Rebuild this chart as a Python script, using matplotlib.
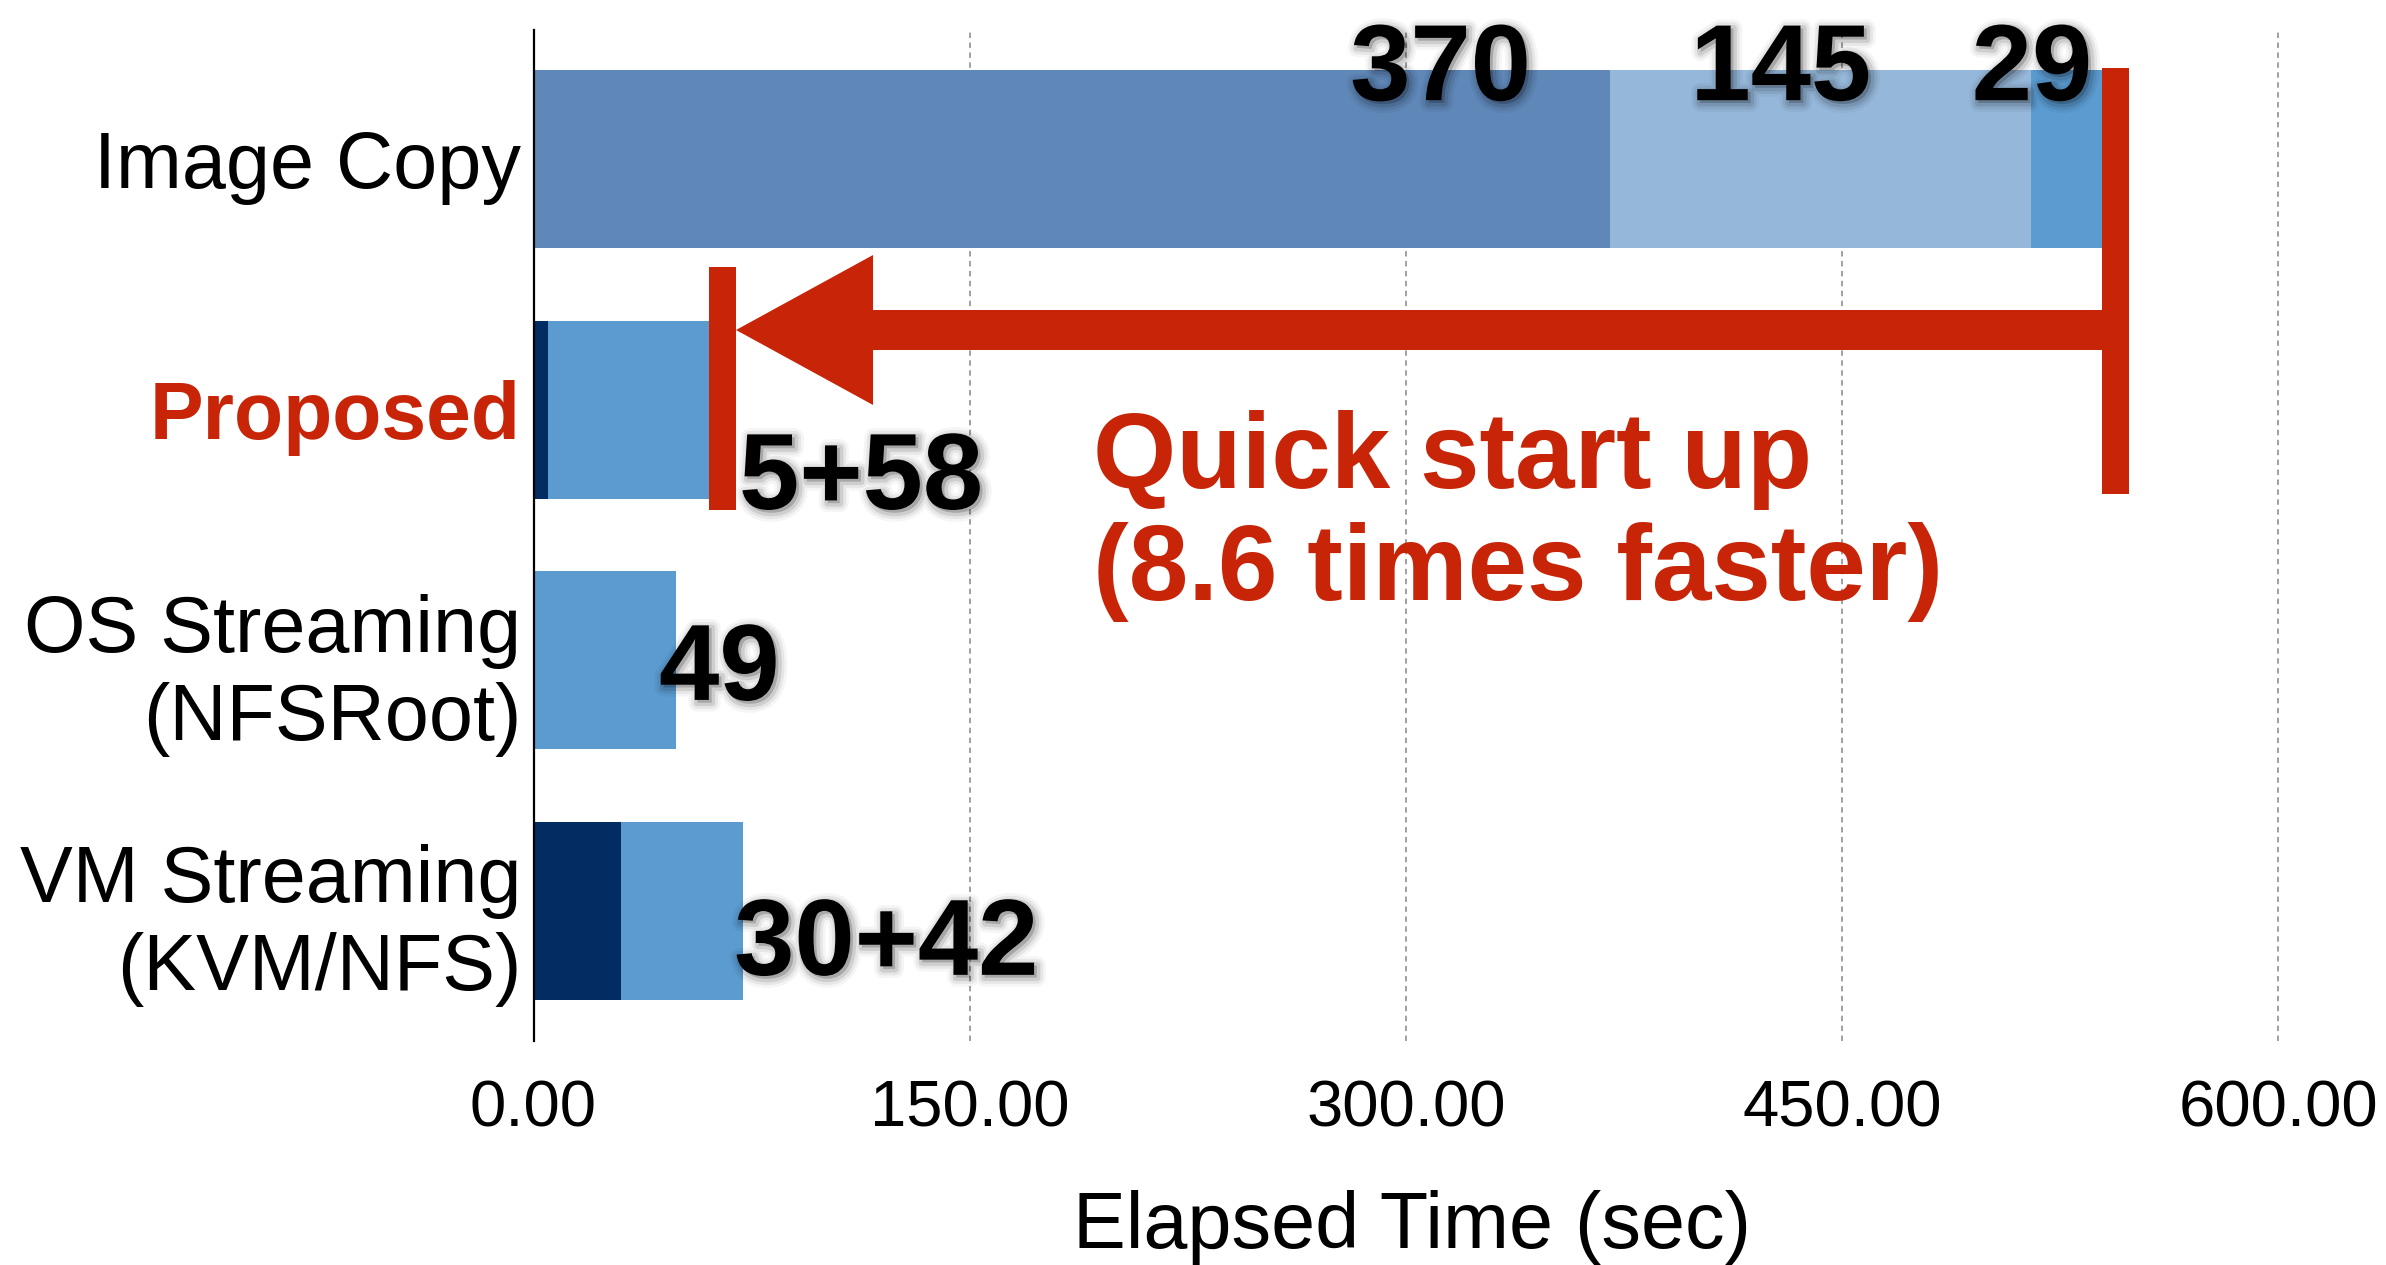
import matplotlib
matplotlib.use("Agg")
import matplotlib.pyplot as plt
import matplotlib.patheffects as pe
from matplotlib.patches import Rectangle, Polygon

plt.rcParams['font.family'] = ['Liberation Sans', 'DejaVu Sans']

# ---- data -------------------------------------------------------------
categories = ["Image Copy", "Proposed", "OS Streaming\n(NFSRoot)", "VM Streaming\n(KVM/NFS)"]
# stacked segments per category (seconds)
seg_dark = [0, 5, 0, 30]          # dark leading segment
seg_copy = [370, 0, 0, 0]         # image copy phase
seg_conf = [145, 0, 0, 0]         # configuration phase
seg_light = [29, 58, 49, 42]      # OS startup
value_labels = [["370", "145", "29"], "5+58", "49", "30+42"]
xticks = [0, 150, 300, 450, 600]
speedup_text = "Quick start up\n(8.6 times faster)"

# ---- style ------------------------------------------------------------
C_DARK = "#022c62"
C_COPY = "#5f87b8"
C_CONF = "#95b8da"
C_LIGHT = "#5b9bd0"
RED = "#c82508"

W, H, DPI = 2386, 1265, 100
fig = plt.figure(figsize=(W / DPI, H / DPI), dpi=DPI)
ax = fig.add_axes([533.5 / W, 1 - 1041 / H, (2290 - 533.5) / W, (1041 - 30) / H])

y = list(range(len(categories)))
bh = 0.71
left = [0] * len(y)
for vals, col in [(seg_dark, C_DARK), (seg_copy, C_COPY), (seg_conf, C_CONF), (seg_light, C_LIGHT)]:
    ax.barh(y, vals, left=left, height=bh, color=col, zorder=2, linewidth=0)
    left = [l + v for l, v in zip(left, vals)]
totals = left

ax.set_xlim(0, 604)
ax.set_ylim(3.519, -0.515)

ax.set_xticks(xticks)
ax.set_xticklabels([f"{t:.2f}" for t in xticks], fontsize=47)
ax.tick_params(axis='x', length=0, pad=28)
ax.set_yticks(y)
ax.set_yticklabels(categories, fontsize=57, linespacing=1.22)
ax.tick_params(axis='y', length=0, pad=9)
for lab in ax.get_yticklabels():
    lab.set_multialignment('right')
    if lab.get_text() == "Proposed":
        lab.set_color(RED)
        lab.set_fontweight('bold')
        lab.set_fontsize(58)

ax.set_xlabel("Elapsed Time (sec)", fontsize=57, labelpad=36)

for s in ["top", "right", "bottom"]:
    ax.spines[s].set_visible(False)
ax.spines["left"].set_linewidth(1.6)
ax.spines["left"].set_zorder(5)

ax.grid(axis='x', color='#999999', linestyle=(0, (3, 2.5)), linewidth=1.3, zorder=0)
ax.set_axisbelow(True)
# no gridline on the y axis itself
ax.xaxis.get_gridlines()[0].set_visible(False)

# ---- value labels with a soft shadow ----------------------------------
glow = [
    pe.Stroke(linewidth=13, foreground='black', alpha=0.04, offset=(2, -2)),
    pe.Stroke(linewidth=9, foreground='black', alpha=0.06, offset=(2, -2)),
    pe.Stroke(linewidth=5, foreground='black', alpha=0.10, offset=(2, -2)),
    pe.Normal(),
]
num_kw = dict(fontsize=78, fontweight='bold', color='black', zorder=6, path_effects=glow)

# top row: one label per segment, right-aligned inside each segment
ends = []
acc = 0
for v in (seg_copy[0], seg_conf[0], seg_light[0]):
    acc += v
    ends.append(acc)
for txt, end, shift in zip(value_labels[0], ends, [27, 55, 8]):
    ax.text(end - shift, -0.235, txt, ha='right', va='baseline', **num_kw)

ax.text(totals[1] + 7.7, 1.396, value_labels[1], ha='left', va='baseline', **num_kw)
ax.text(totals[2] - 5.8, 2.158, value_labels[2], ha='left', va='baseline', **num_kw)
ax.text(totals[3] - 3.0, 3.255, value_labels[3], ha='left', va='baseline', **num_kw)

# ---- speed-up annotation ------------------------------------------------
px = 604 / (2290 - 533.5)        # data units per pixel (x)
py = (3.519 + 0.515) / (1041 - 30)  # data units per pixel (y)
bw = 27 * px
x_new = totals[1] + 2          # just past the end of the proposed bar
x_old = totals[0]
ax.add_patch(Rectangle((x_old - bw / 2, -0.363), bw, 1.336 + 0.363, color=RED, zorder=4, linewidth=0))
ax.add_patch(Rectangle((x_new - bw / 2, 0.431), bw, 1.400 - 0.431, color=RED, zorder=4, linewidth=0))
yc = 0.682
sh = 20 * py
hh = 75 * py
tip = x_new + bw / 2
base = tip + 137 * px
arrow = [(tip, yc), (base, yc - hh), (base, yc - sh), (x_old, yc - sh),
         (x_old, yc + sh), (base, yc + sh), (base, yc + hh)]
ax.add_patch(Polygon(arrow, closed=True, color=RED, zorder=4, linewidth=0))

ax.text(1093 / W, 1 - 516 / H, speedup_text, transform=fig.transFigure,
        fontsize=77, fontweight='bold', color=RED, ha='left', va='center',
        linespacing=1.15, zorder=6)

fig.savefig("out.png", dpi=DPI)
